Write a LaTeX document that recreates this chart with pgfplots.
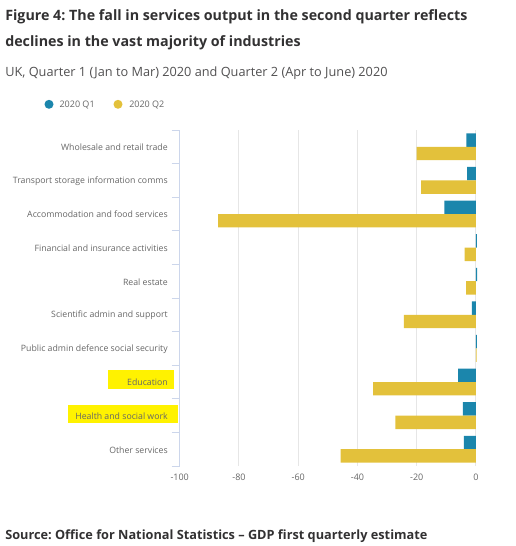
\documentclass[border=0pt]{standalone}
\usepackage{pgfplots}
\pgfplotsset{compat=1.18}
\usepackage{fontspec}
\setmainfont{Open Sans}
\frenchspacing
\definecolor{qone}{HTML}{1B86AC}
\definecolor{qtwo}{HTML}{E3C13B}
\definecolor{titlec}{HTML}{323132}
\definecolor{labc}{HTML}{666666}
\definecolor{axc}{HTML}{CCD6EB}
\definecolor{gridc}{HTML}{E6E6E6}
\begin{document}
\begin{tikzpicture}
\begin{scope}[x=0.75pt,y=-0.75pt]
\path (0,0) rectangle (516,546);
\fill[yellow] (108,370) rectangle (174,389);
\fill[yellow] (68,405) rectangle (178,423);
\node[anchor=base west, inner sep=0pt, text=titlec, font=\fontsize{10.7pt}{12pt}\selectfont\bfseries] at (5,21) {Figure 4: The fall in services output in the second quarter reflects};
\node[anchor=base west, inner sep=0pt, text=titlec, font=\fontsize{10.7pt}{12pt}\selectfont\bfseries] at (5,46) {declines in the vast majority of industries};
\node[anchor=base west, inner sep=0pt, text=titlec!85, font=\fontsize{9.55pt}{11pt}\selectfont] at (5,76) {UK, Quarter 1 (Jan to Mar) 2020 and Quarter 2 (Apr to June) 2020};
\fill[qone] (49,104.3) circle (4.5);
\node[anchor=base west, inner sep=0pt, text=labc, font=\fontsize{6.75pt}{8pt}\selectfont] at (59.3,107.5) {2020 Q1};
\fill[qtwo] (118,104.3) circle (4.5);
\node[anchor=base west, inner sep=0pt, text=labc, font=\fontsize{6.75pt}{8pt}\selectfont] at (129,107.5) {2020 Q2};
\node[anchor=base west, inner sep=0pt, text=titlec, font=\fontsize{9.55pt}{12pt}\selectfont\bfseries] at (5,539.7) {Source: Office for National Statistics -- GDP first quarterly estimate};
\end{scope}
\begin{axis}[
  at={(179.7*0.75pt,-466*0.75pt)}, anchor=south west,
  scale only axis, width=222.2pt, height=252pt,
  xbar, bar width=0.4, bar shift=0pt,
  xmin=-100, xmax=0, ymin=-0.5, ymax=9.5,
  clip=false,
  axis x line*=bottom, axis y line*=left,
  x axis line style={draw=none,-},
  y axis line style={draw=axc,-,line width=0.75pt},
  xtick={-100,-80,-60,-40,-20,0},
  xticklabels={-100,-80,-60,-40,-20,0},
  xmajorgrids, grid style={draw=gridc, line width=0.75pt},
  ytick={0,...,9},
  yticklabels={Other services,Health and social work,Education,Public admin defence social security,Scientific admin and support,Real estate,Financial and insurance activities,Accommodation and food services,Transport storage information comms,Wholesale and retail trade},
  minor ytick={-0.5,0.5,...,9.5},
  major tick length=0pt, minor tick length=6pt,
  tick align=outside,
  minor tick style={draw=axc, line width=0.75pt},
  yticklabel style={font=\fontsize{6.55pt}{8pt}\selectfont, text=labc, inner sep=0pt, xshift=-8.8pt, yshift=-0.5pt},
  xticklabel style={font=\fontsize{6.75pt}{8pt}\selectfont, text=labc, inner sep=0pt, anchor=north, yshift=-6pt},
]
\addplot[fill=qone, draw=none] coordinates {
(-3.2,9.2) (-3.0,8.2) (-10.7,7.2) (0.3,6.2) (0.4,5.2) (-1.4,4.2) (0.3,3.2) (-6.0,2.2) (-4.4,1.2) (-4.1,0.2)};
\addplot[fill=qtwo, draw=none] coordinates {
(-20.0,8.8) (-18.5,7.8) (-87.0,6.8) (-3.8,5.8) (-3.3,4.8) (-24.3,3.8) (0.2,2.8) (-34.7,1.8) (-27.2,0.8) (-45.7,-0.2)};
\end{axis}
\end{tikzpicture}
\end{document}
